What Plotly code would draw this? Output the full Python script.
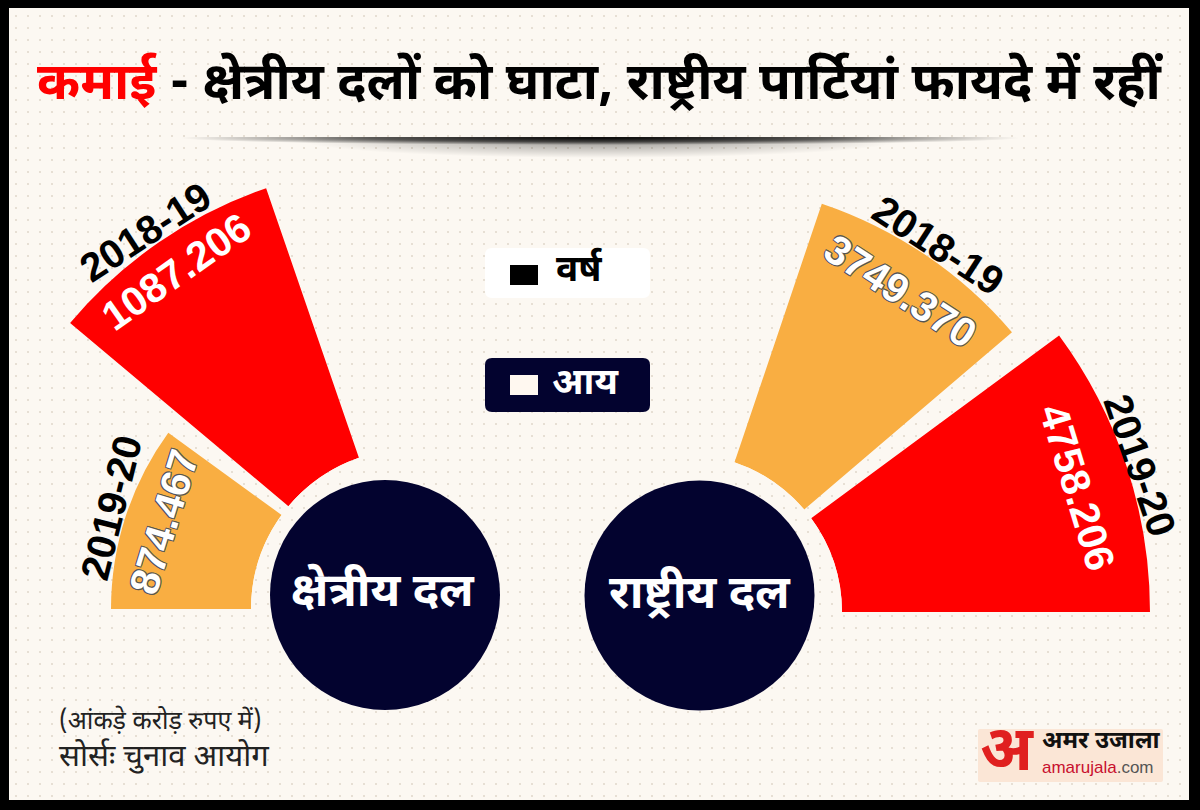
import math
import base64
import plotly.graph_objects as go

W, H = 1200, 810

# ---------------- data ----------------
regional_years = ["2018-19", "2019-20"]
regional_income = [1087.206, 874.467]
national_years = ["2018-19", "2019-20"]
national_income = [3749.370, 4758.206]

title_red = "कमाई"
title_black = " - क्षेत्रीय दलों को घाटा, राष्ट्रीय पार्टियां फायदे में रहीं"
center_labels = ["क्षेत्रीय दल", "राष्ट्रीय दल"]
legend_labels = ["वर्ष", "आय"]
note_unit = "(आंकड़े करोड़ रुपए में)"
note_source = "सोर्सः चुनाव आयोग"

RED = "#FF0000"
ORANGE = "#F9AE42"
NAVY = "#03032F"
CREAM = "#FCF8F2"

DEV = "Noto Sans Devanagari, Noto Sans, sans-serif"
LAT = "Liberation Sans, Arial, sans-serif"


def P(px, py):
    return px / W, 1 - py / H


def sector_bbox(s0, s1):
    a0 = s0 % 360
    a1 = a0 + (s1 - s0)
    ax0, ay0 = math.cos(math.radians(a0)), math.sin(math.radians(a0))
    ax1, ay1 = math.cos(math.radians(a1)), math.sin(math.radians(a1))
    if (a0 <= 180 and a1 >= 180) or (a0 > 180 and a1 >= 540):
        x0 = -1
    elif ax0 >= 0 and ax1 >= 0:
        x0 = 0
    else:
        x0 = min(ax0, ax1)
    if (a0 <= 0 and a1 >= 0) or (a0 > 0 and a1 >= 360):
        x1 = 1
    elif ax0 <= 0 and ax1 <= 0:
        x1 = 0
    else:
        x1 = max(ax0, ax1)
    if (a0 <= 270 and a1 >= 270) or (a0 > 270 and a1 >= 630):
        y0 = -1
    elif ay0 >= 0 and ay1 >= 0:
        y0 = 0
    else:
        y0 = min(ay0, ay1)
    if (a0 <= 90 and a1 >= 90) or (a0 > 90 and a1 >= 450):
        y1 = 1
    elif ay0 <= 0 and ay1 <= 0:
        y1 = 0
    else:
        y1 = max(ay0, ay1)
    return x0, y0, x1, y1


def polar_layout(cx, cy, R, sector, hole_px, rng, axtype="linear"):
    x0, y0, x1, y1 = sector_bbox(*sector)
    left, right = cx + R * x0, cx + R * x1
    top, bottom = cy - R * y1, cy - R * y0
    return dict(
        domain=dict(x=[left / W, right / W], y=[1 - bottom / H, 1 - top / H]),
        sector=list(sector),
        hole=hole_px / R,
        bgcolor="rgba(0,0,0,0)",
        radialaxis=dict(visible=False, range=rng, type=axtype),
        angularaxis=dict(visible=False, rotation=0, direction="counterclockwise"),
    )


# left side: linear radial scale, pixel radius = la + lb * value
L_CX, L_CY, L_HOLE = 411, 609, 160
lb = (445 - 300) / (regional_income[0] - regional_income[1])
la = 445 - lb * regional_income[0]
l_min = (L_HOLE - la) / lb

# right side: log radial scale, pixel radius = ra + rb * log10(value)
R_CX, R_CY, R_HOLE = 684, 612, 158
lg = [math.log10(v) for v in national_income]
rb = (466 - 431) / (lg[1] - lg[0])
ra = 431 - rb * lg[0]
r_min = (R_HOLE - ra) / rb

RA, RB, RC = 450, 310, 475
polarA = polar_layout(L_CX, L_CY, RA, (100, 150), L_HOLE, [l_min, (RA - la) / lb])
polarB = polar_layout(L_CX, L_CY, RB, (140, 180), L_HOLE, [l_min, (RB - la) / lb])
polarC = polar_layout(R_CX, R_CY, RC, (0, 75), R_HOLE, [r_min, (RC - ra) / rb], "log")

fig = go.Figure()
fig.add_trace(go.Barpolar(r=[regional_income[0]], theta=[124.5], width=[31],
                          marker=dict(color=RED, line=dict(width=0)), subplot="polar",
                          name=regional_years[0], hoverinfo="skip"))
fig.add_trace(go.Barpolar(r=[regional_income[1]], theta=[162], width=[36],
                          marker=dict(color=ORANGE, line=dict(width=0)), subplot="polar2",
                          name=regional_years[1], hoverinfo="skip"))
fig.add_trace(go.Barpolar(r=national_income, theta=[55.9, 18.2], width=[30.9, 36.4],
                          marker=dict(color=[ORANGE, RED], line=dict(width=0)), subplot="polar3",
                          name="national", hoverinfo="skip"))

# ---------------- background (cream, dots, title shadow) ----------------
svg = f'''<svg xmlns="http://www.w3.org/2000/svg" width="{W}" height="{H}" viewBox="0 0 {W} {H}">
<defs>
<pattern id="d" width="12" height="12" patternUnits="userSpaceOnUse"><circle cx="4" cy="4" r="1.1" fill="#e2d9cd"/></pattern>
<radialGradient id="g1" cx="0.5" cy="0.5" r="0.5"><stop offset="0" stop-color="#000" stop-opacity="0.95"/><stop offset="0.55" stop-color="#000" stop-opacity="0.6"/><stop offset="1" stop-color="#000" stop-opacity="0"/></radialGradient>
<radialGradient id="g2" cx="0.5" cy="0.5" r="0.5"><stop offset="0" stop-color="#000" stop-opacity="0.4"/><stop offset="1" stop-color="#000" stop-opacity="0"/></radialGradient>
<clipPath id="c"><rect x="0" y="137" width="{W}" height="40"/></clipPath>
</defs>
<rect width="{W}" height="{H}" fill="#000"/>
<rect x="9" y="8" width="1180" height="792" fill="{CREAM}"/>
<rect x="9" y="8" width="1180" height="792" fill="url(#d)"/>
<g clip-path="url(#c)">
<ellipse cx="600" cy="138" rx="420" ry="7" fill="url(#g1)"/>
<ellipse cx="600" cy="140" rx="300" ry="18" fill="url(#g2)"/>
</g>
</svg>'''
src = "data:image/svg+xml;base64," + base64.b64encode(svg.encode()).decode()

images = [dict(source=src, xref="paper", yref="paper", x=0, y=1, sizex=1, sizey=1,
               xanchor="left", yanchor="top", sizing="stretch", layer="below")]

shapes = []
annotations = []


def rrect(x0, y0, x1, y1, r, fill):
    def f(px, py):
        X, Y = P(px, py)
        return f"{X:.6f},{Y:.6f}"
    path = (f"M {f(x0 + r, y0)} L {f(x1 - r, y0)} Q {f(x1, y0)} {f(x1, y0 + r)} "
            f"L {f(x1, y1 - r)} Q {f(x1, y1)} {f(x1 - r, y1)} L {f(x0 + r, y1)} "
            f"Q {f(x0, y1)} {f(x0, y1 - r)} L {f(x0, y0 + r)} Q {f(x0, y0)} {f(x0 + r, y0)} Z")
    shapes.append(dict(type="path", xref="paper", yref="paper", path=path,
                       fillcolor=fill, line=dict(width=0), layer="above"))


def rect(x0, y0, x1, y1, fill):
    X0, Y0 = P(x0, y0)
    X1, Y1 = P(x1, y1)
    shapes.append(dict(type="rect", xref="paper", yref="paper", x0=X0, y0=Y0, x1=X1, y1=Y1,
                       fillcolor=fill, line=dict(width=0), layer="above"))


def circle(cx, cy, r, fill):
    X0, Y0 = P(cx - r, cy - r)
    X1, Y1 = P(cx + r, cy + r)
    shapes.append(dict(type="circle", xref="paper", yref="paper", x0=X0, y0=Y0, x1=X1, y1=Y1,
                       fillcolor=fill, line=dict(width=0), layer="above"))


def text(px, py, t, size, color, family=DEV, angle=0, weight="bold", shadow=None, xanchor="center"):
    X, Y = P(px, py)
    font = dict(size=size, color=color, family=family, weight=weight)
    if shadow:
        font["shadow"] = shadow
    annotations.append(dict(x=X, y=Y, xref="paper", yref="paper", text=t, showarrow=False,
                            xanchor=xanchor, yanchor="middle", textangle=angle, font=font))


# title
text(600, 86, f"<span style='color:{RED}'>{title_red}</span>{title_black}", 52, "#000")

# circles
circle(385, 595, 115, NAVY)
circle(699.5, 595.5, 115, NAVY)
text(383, 594, center_labels[0], 47, "#fff")
text(700, 596, center_labels[1], 47, "#fff")

# legend
rrect(485, 248, 650, 298, 7, "#ffffff")
rect(510, 265, 538, 285, "#000000")
text(579, 271, legend_labels[0], 37, "#000")
rrect(485, 358, 650, 412, 7, NAVY)
rect(510, 375, 538, 395, "#FFF8F0")
text(585, 385, legend_labels[1], 37, "#fff")

# chart labels
outline = "-1px -1px 0 #555, 1px -1px 0 #555, -1px 1px 0 #555, 1px 1px 0 #555"
text(145, 232, regional_years[0], 40, "#000", LAT, -33)
text(176, 272, f"{regional_income[0]:.3f}", 41, "#fff", LAT, -35)
text(111, 508, regional_years[1], 40, "#000", LAT, -76)
text(164, 522, f"{regional_income[1]:.3f}", 41, "#fff", LAT, -73, shadow=outline)

text(938, 245, national_years[0], 40, "#000", LAT, 33)
text(900, 291, f"{national_income[0]:.3f}", 41, "#fff", LAT, 33, shadow=outline)
text(1140, 465, national_years[1], 40, "#000", LAT, 71)
text(1077, 487, f"{national_income[1]:.3f}", 41, "#fff", LAT, 73)

# notes
text(57, 722, note_unit, 25, "#222", weight="normal", xanchor="left")
text(57, 758, note_source, 31, "#222", weight="normal", xanchor="left")

# logo
rrect(978, 729, 1163, 782, 2, "#FBE6D6")
text(1007, 754, "अ", 62, "#E0201F")
text(1101, 742, "अमर उजाला", 24, "#111")
text(1098, 767, "<span style='color:#C8102E'>amarujala</span>.com", 17, "#555", LAT, weight="normal")

fig.update_layout(
    width=W, height=H,
    margin=dict(l=0, r=0, t=0, b=0),
    paper_bgcolor="#000",
    plot_bgcolor="rgba(0,0,0,0)",
    showlegend=False,
    polar=polarA, polar2=polarB, polar3=polarC,
    images=images, shapes=shapes, annotations=annotations,
)

fig.write_html("out.html", config=dict(displayModeBar=False),
               post_script="document.body.style.margin='0';")
